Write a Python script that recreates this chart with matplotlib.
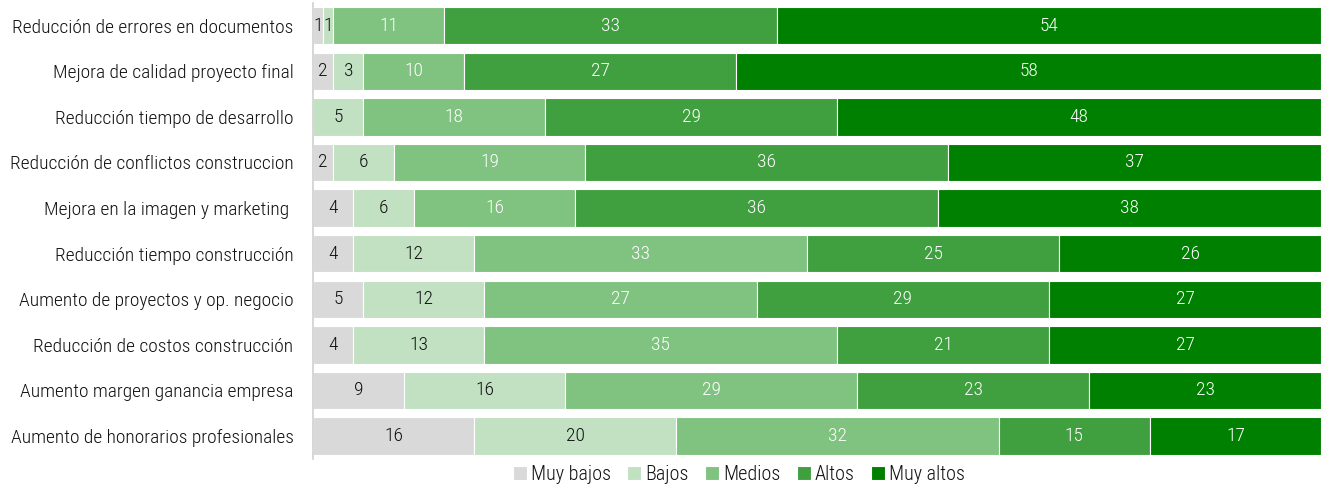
import matplotlib
matplotlib.use("Agg")
import matplotlib.pyplot as plt
import numpy as np

categories = [
    "Reducción de errores en documentos",
    "Mejora de calidad proyecto final",
    "Reducción tiempo de desarrollo",
    "Reducción de conflictos construccion",
    "Mejora en la imagen y marketing ",
    "Reducción tiempo construcción",
    "Aumento de proyectos y op. negocio",
    "Reducción de costos construcción",
    "Aumento margen ganancia empresa",
    "Aumento de honorarios profesionales",
]
series_names = ["Muy bajos", "Bajos", "Medios", "Altos", "Muy altos"]
muy_bajos = [1, 2, 0, 2, 4, 4, 5, 4, 9, 16]
bajos = [1, 3, 5, 6, 6, 12, 12, 13, 16, 20]
medios = [11, 10, 18, 19, 16, 33, 27, 35, 29, 32]
altos = [33, 27, 29, 36, 36, 25, 29, 21, 23, 15]
muy_altos = [54, 58, 48, 37, 38, 26, 27, 27, 23, 17]

colors = ["#D9D9D9", "#C2E1C2", "#80C280", "#40A040", "#008000"]
text_colors = ["#111111", "#111111", "white", "white", "white"]

plt.rcParams['font.family'] = ['Roboto Condensed', 'DejaVu Sans']
plt.rcParams['font.weight'] = 'light'
plt.rcParams['text.color'] = '#111111'

fig = plt.figure(figsize=(13.23, 4.84), dpi=100)
ax = fig.add_axes([0.2366, 0.052, 0.762, 0.942])

y = np.arange(len(categories))
left = np.zeros(len(categories))
for name, vals, c, tc in zip(series_names, [muy_bajos, bajos, medios, altos, muy_altos], colors, text_colors):
    vals = np.array(vals, dtype=float)
    ax.barh(y, vals, left=left, height=0.82, color=c, edgecolor="white", linewidth=0.8, label=name)
    for yi, v, l in zip(y, vals, left):
        if v > 0:
            ax.text(l + v / 2, yi, f"{int(v)}", ha="center", va="center", color=tc, fontsize=14)
    left += vals

ax.set_xlim(0, 100)
ax.set_ylim(len(categories) - 0.5, -0.5)
ax.set_yticks(y)
ax.set_yticklabels(categories, fontsize=14, color="#111111")
ax.tick_params(axis="y", length=0, pad=14)
ax.set_xticks([])
for s in ["top", "right", "bottom"]:
    ax.spines[s].set_visible(False)
ax.spines["left"].set_color("#D0D0D0")
ax.spines["left"].set_linewidth(1.2)

fig.legend(loc="lower center", bbox_to_anchor=(0.5586, -0.037), ncol=5, frameon=False,
           fontsize=14.5, handlelength=0.7, handleheight=0.7, handletextpad=0.2, columnspacing=0.8)

fig.savefig("out.png", dpi=100)
